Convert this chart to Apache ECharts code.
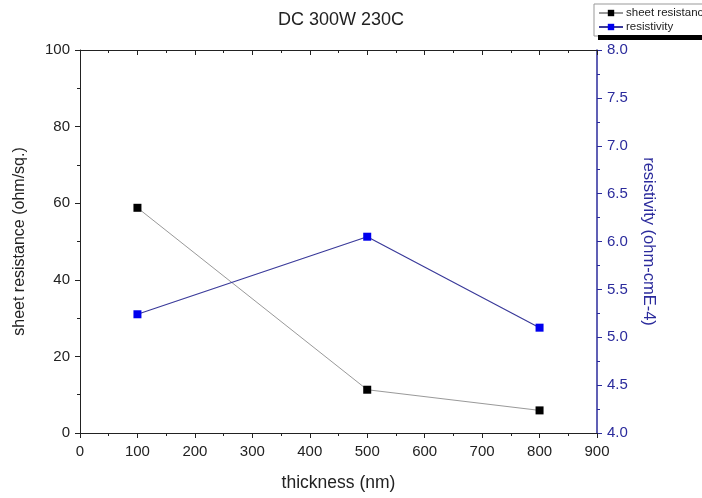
<!DOCTYPE html>
<html>
<head>
<meta charset="utf-8">
<script src="https://cdn.jsdelivr.net/npm/echarts@6/dist/echarts.min.js"></script>
<style>html,body{margin:0;padding:0;background:#fff}#c{width:702px;height:498px}</style>
</head>
<body>
<div id="c"></div>
<script>
const thickness = [100, 500, 800];
const sheetResistance = [58.8, 11.3, 5.9];
const resistivity = [5.24, 6.05, 5.10];
const titleText = 'DC 300W 230C';
const xName = 'thickness (nm)';
const yLeftName = 'sheet resistance (ohm/sq.)';
const yRightName = 'resistivity (ohm-cmE-4)';
const seriesNames = ['sheet resistance', 'resistivity'];

const chart = echarts.init(document.getElementById('c'), null, {renderer: 'canvas'});
const font = 'Liberation Sans, Arial, sans-serif';
const blue = '#2b2b9c';
const dark = '#222';

function tickAxis(base, interval, len, color, inside) {
  return Object.assign({}, base, {
    interval: interval,
    axisLine: {show: false, onZero: false},
    axisTick: {show: true, inside: inside, length: len, lineStyle: {color: color}},
    axisLabel: {show: false}, splitLine: {show: false}, name: ''
  });
}
const xBase = {type: 'value', min: 0, max: 900};
const yRBase = {type: 'value', min: 4, max: 8, position: 'right'};

chart.setOption({
  animation: false,
  backgroundColor: '#fff',
  title: {text: titleText, left: 336, top: 6, textAlign: 'center',
    textStyle: {fontFamily: font, fontSize: 18, fontWeight: 'normal', color: dark}},
  legend: {
    left: 594, top: 4, orient: 'vertical', itemGap: 2, itemWidth: 24, itemHeight: 8,
    borderColor: '#999', borderWidth: 1, padding: [3, 4, 3, 4],
    textStyle: {fontFamily: font, fontSize: 11.5, color: dark, padding: [0, 0, 0, -2]},
    data: seriesNames
  },
  graphic: [{type: 'rect', shape: {x: 598, y: 35, width: 110, height: 5}, style: {fill: '#000'}, z: 100}],
  grid: {left: 80, right: 105, top: 50, bottom: 65},
  xAxis: [{
    type: 'value', min: 0, max: 900, interval: 100, position: 'bottom',
    name: xName, nameLocation: 'middle', nameGap: 41,
    nameTextStyle: {fontFamily: font, fontSize: 17.5, color: dark},
    axisLine: {show: true, onZero: false, lineStyle: {color: dark, width: 1}},
    axisTick: {show: true, inside: false, length: 5, lineStyle: {color: dark}},
    axisLabel: {fontFamily: font, fontSize: 15, color: dark, margin: 11},
    splitLine: {show: false}
  }, {
    type: 'value', min: 0, max: 900, interval: 100, position: 'top',
    axisLine: {show: true, onZero: false, lineStyle: {color: dark, width: 1}},
    axisTick: {show: true, inside: true, length: 5, lineStyle: {color: dark}},
    axisLabel: {show: false}, splitLine: {show: false}
  },
    tickAxis(Object.assign({position: 'bottom'}, xBase), 50, 3, dark, false),
    tickAxis(Object.assign({position: 'top'}, xBase), 50, 3, dark, true)
  ],
  yAxis: [{
    type: 'value', min: 0, max: 100, interval: 20, position: 'left',
    name: yLeftName, nameLocation: 'middle', nameGap: 52, nameRotate: 90,
    nameTextStyle: {fontFamily: font, fontSize: 16, color: dark},
    axisLine: {show: true, onZero: false, lineStyle: {color: dark, width: 1}},
    axisTick: {show: true, inside: false, length: 5, lineStyle: {color: dark}},
    axisLabel: {fontFamily: font, fontSize: 15, color: dark, margin: 10},
    splitLine: {show: false}
  }, {
    type: 'value', min: 4, max: 8, interval: 0.5, position: 'right',
    name: yRightName, nameLocation: 'middle', nameGap: 43, nameRotate: -90,
    nameTextStyle: {fontFamily: font, fontSize: 16.5, color: blue},
    axisLine: {show: true, onZero: false, lineStyle: {color: blue, width: 1.5}},
    axisTick: {show: true, inside: false, length: 5, lineStyle: {color: blue}},
    axisLabel: {fontFamily: font, fontSize: 15, color: blue, margin: 10,
      formatter: v => v.toFixed(1)},
    splitLine: {show: false}
  },
    tickAxis({type: 'value', min: 0, max: 100, position: 'left'}, 10, 3, dark, false),
    tickAxis(yRBase, 0.25, 3, blue, false)
  ],
  series: [{
    name: seriesNames[0], type: 'line', xAxisIndex: 0, yAxisIndex: 0,
    data: thickness.map((t, i) => [t, sheetResistance[i]]),
    symbol: 'rect', symbolSize: 8, itemStyle: {color: '#000'},
    lineStyle: {color: '#999', width: 1}
  }, {
    name: seriesNames[1], type: 'line', xAxisIndex: 0, yAxisIndex: 1,
    data: thickness.map((t, i) => [t, resistivity[i]]),
    symbol: 'rect', symbolSize: 8, itemStyle: {color: '#0000ee'},
    lineStyle: {color: '#3a3a9a', width: 1.2}
  }]
});
</script>
</body>
</html>
